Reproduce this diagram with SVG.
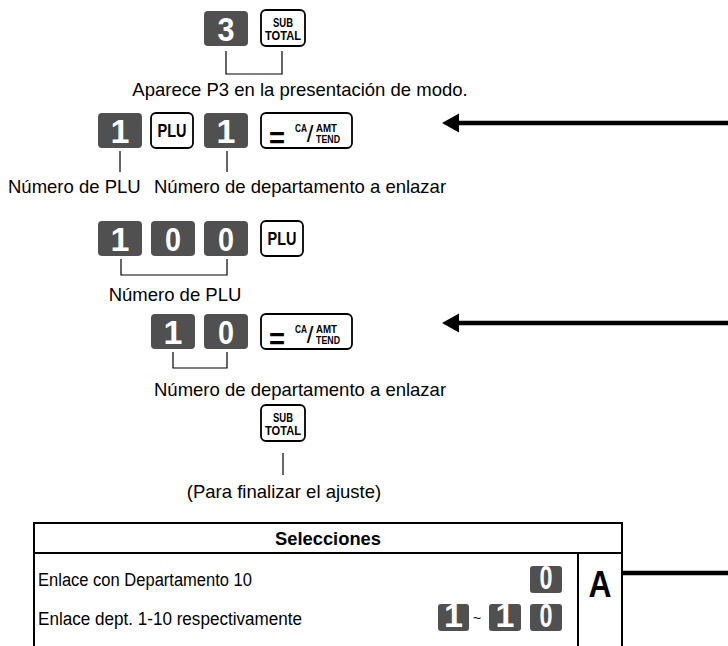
<svg xmlns="http://www.w3.org/2000/svg" width="728" height="646" viewBox="0 0 728 646">
<style>
.dk{fill:#505050}
.dt{fill:#fff;font-family:"Liberation Sans",Arial,sans-serif;font-weight:bold;font-size:34px;text-anchor:middle}
.wk{fill:#fff;stroke:#000;stroke-width:1.8}
.kt{fill:#000;font-family:"Liberation Sans",Arial,sans-serif;font-weight:bold}
.lb{fill:#000;font-family:"Liberation Sans",Arial,sans-serif;font-size:18.5px}
.tx{fill:#000;font-family:"Liberation Sans",Arial,sans-serif;font-size:18px}
.ln{fill:none;stroke:#000;stroke-width:1.2}
.ar{fill:none;stroke:#000;stroke-width:4.5}
.tb{fill:none;stroke:#000;stroke-width:2}
</style>
<defs>
<g id="subtotal">
<rect class="wk" x="0" y="0" width="44" height="36" rx="5"/>
<text class="kt" x="12" y="17" font-size="13" textLength="20" lengthAdjust="spacingAndGlyphs">SUB</text>
<text class="kt" x="4" y="30" font-size="13" textLength="36" lengthAdjust="spacingAndGlyphs">TOTAL</text>
</g>
<g id="plu">
<rect class="wk" x="0" y="0" width="42" height="35" rx="5"/>
<text class="kt" x="6.5" y="24" font-size="19" textLength="29" lengthAdjust="spacingAndGlyphs">PLU</text>
</g>
<g id="catend">
<rect class="wk" x="0" y="0" width="91" height="35" rx="5"/>
<text class="kt" x="8" y="35" font-size="30" textLength="16" lengthAdjust="spacingAndGlyphs">=</text>
<text class="kt" x="34" y="19" font-size="11.5" textLength="12" lengthAdjust="spacingAndGlyphs">CA</text>
<text x="49" y="29" text-anchor="middle" font-family="'Liberation Sans',Arial,sans-serif" font-size="24">/</text>
<text class="kt" x="55" y="19" font-size="11.5" textLength="21" lengthAdjust="spacingAndGlyphs">AMT</text>
<text class="kt" x="55" y="30" font-size="11.5" textLength="24" lengthAdjust="spacingAndGlyphs">TEND</text>
</g>
</defs>

<g id="row1">
<rect class="dk" x="204" y="11" width="44" height="35" rx="4"/>
<text class="dt" x="226" y="41" textLength="17" lengthAdjust="spacingAndGlyphs">3</text>
<use href="#subtotal" x="261" y="10"/>
<path class="ln" d="M226 51V74H282V51"/>
<text class="lb" x="300" y="96" text-anchor="middle">Aparece P3 en la presentación de modo.</text>
</g>

<g id="row2">
<rect class="dk" x="98" y="113" width="44" height="35" rx="4"/>
<text class="dt" x="120" y="143">1</text>
<use href="#plu" x="151" y="113"/>
<rect class="dk" x="204" y="113" width="44" height="35" rx="4"/>
<text class="dt" x="226" y="143">1</text>
<use href="#catend" x="261" y="113"/>
<path class="ln" d="M120 151V172M227 151V172"/>
<text class="lb" x="8" y="193">Número de PLU</text>
<text class="lb" x="154" y="193">Número de departamento a enlazar</text>
</g>

<g id="row3">
<rect class="dk" x="98" y="221" width="44" height="35" rx="4"/>
<text class="dt" x="120" y="251">1</text>
<rect class="dk" x="151" y="221" width="44" height="35" rx="4"/>
<text class="dt" x="173" y="251" textLength="16" lengthAdjust="spacingAndGlyphs">0</text>
<rect class="dk" x="204" y="221" width="44" height="35" rx="4"/>
<text class="dt" x="226" y="251" textLength="16" lengthAdjust="spacingAndGlyphs">0</text>
<use href="#plu" x="261" y="221"/>
<path class="ln" d="M121 259V275H227V259"/>
<text class="lb" x="175" y="301" text-anchor="middle">Número de PLU</text>
</g>

<g id="row4">
<rect class="dk" x="151" y="314" width="44" height="35" rx="4"/>
<text class="dt" x="173" y="344">1</text>
<rect class="dk" x="204" y="314" width="44" height="35" rx="4"/>
<text class="dt" x="226" y="344" textLength="16" lengthAdjust="spacingAndGlyphs">0</text>
<use href="#catend" x="261" y="314"/>
<path class="ln" d="M173 352V368H227V352"/>
<text class="lb" x="154" y="396">Número de departamento a enlazar</text>
</g>

<g id="row5">
<use href="#subtotal" x="261" y="405"/>
<path class="ln" d="M283 453V475"/>
<text class="lb" x="284" y="498" text-anchor="middle">(Para finalizar el ajuste)</text>
</g>

<g id="connectors">
<path class="ar" d="M458 123H728"/>
<path d="M442 123L459 113.5V132.5Z" fill="#000"/>
<path class="ar" d="M458 323H728"/>
<path d="M442 323L459 313.5V332.5Z" fill="#000"/>
<path class="ar" d="M622 573H728"/>
</g>

<g id="table">
<path class="tb" d="M34 647V523H622V647M34 553H622M578 553V647"/>
<text x="328" y="545" text-anchor="middle" font-family="'Liberation Sans',Arial,sans-serif" font-weight="bold" font-size="18" textLength="106" lengthAdjust="spacingAndGlyphs">Selecciones</text>
<text class="tx" x="38" y="586" textLength="214" lengthAdjust="spacingAndGlyphs">Enlace con Departamento 10</text>
<text class="tx" x="38" y="625" textLength="264" lengthAdjust="spacingAndGlyphs">Enlace dept. 1-10 respectivamente</text>
<rect class="dk" x="530" y="566" width="32" height="27" rx="3"/>
<text class="dt" x="546" y="589" font-size="26" textLength="13" lengthAdjust="spacingAndGlyphs">0</text>
<rect class="dk" x="438" y="604" width="31" height="27" rx="3"/>
<text class="dt" x="453.5" y="627" font-size="26">1</text>
<text x="477" y="623" text-anchor="middle" font-family="'Liberation Sans',Arial,sans-serif" font-size="14">~</text>
<rect class="dk" x="489" y="604" width="32" height="27" rx="3"/>
<text class="dt" x="505" y="627" font-size="26">1</text>
<rect class="dk" x="530" y="604" width="32" height="27" rx="3"/>
<text class="dt" x="546" y="627" font-size="26" textLength="13" lengthAdjust="spacingAndGlyphs">0</text>
<text x="600" y="597" text-anchor="middle" font-family="'Liberation Sans',Arial,sans-serif" font-weight="bold" font-size="36" textLength="23" lengthAdjust="spacingAndGlyphs">A</text>
</g>
</svg>
